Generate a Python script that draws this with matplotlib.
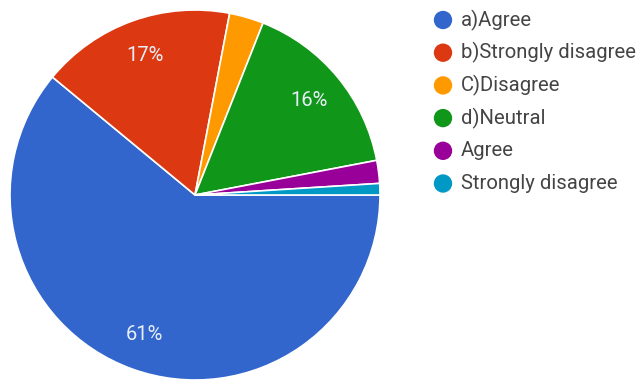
import matplotlib
matplotlib.use("Agg")
import matplotlib.pyplot as plt

labels = ["a)Agree", "b)Strongly disagree", "C)Disagree", "d)Neutral", "Agree", "Strongly disagree"]
shares = [61, 17, 3, 16, 2, 1]
colors = ["#3366cc", "#dc3912", "#ff9900", "#109618", "#990099", "#0099c6"]

plt.rcParams["font.family"] = ["Roboto", "DejaVu Sans"]

W, H = 643, 383
fig = plt.figure(figsize=(W / 100, H / 100), dpi=100)
fig.patch.set_facecolor("white")

# Pie area in pixel terms: centre (195, 195), radius 185
cx, cy, r = 195, 195, 185
ax = fig.add_axes([(cx - r) / W, (H - cy - r) / H, 2 * r / W, 2 * r / H])
wedges, _, autotexts = ax.pie(
    shares,
    colors=colors,
    startangle=0,
    counterclock=False,
    autopct=lambda p: f"{p:.0f}%" if p >= 5 else "",
    pctdistance=0.8,
    wedgeprops=dict(edgecolor="white", linewidth=1.2),
    textprops=dict(color="#e8eef8", fontsize=14.5),
)
ax.set_xlim(-1, 1)
ax.set_ylim(-1, 1)
ax.set_aspect("equal")

# Legend drawn on an overlay axes in pixel coordinates
lax = fig.add_axes([0, 0, 1, 1])
lax.set_xlim(0, W)
lax.set_ylim(H, 0)
lax.axis("off")
y0, step = 20, 32.7
for i, (lab, col) in enumerate(zip(labels, colors)):
    y = y0 + i * step
    lax.scatter([443], [y], s=175, color=col, edgecolors="none")
    lax.text(461, y, lab, fontsize=14.6, color="#444444", va="center", ha="left")

fig.savefig("out.png", dpi=100)
